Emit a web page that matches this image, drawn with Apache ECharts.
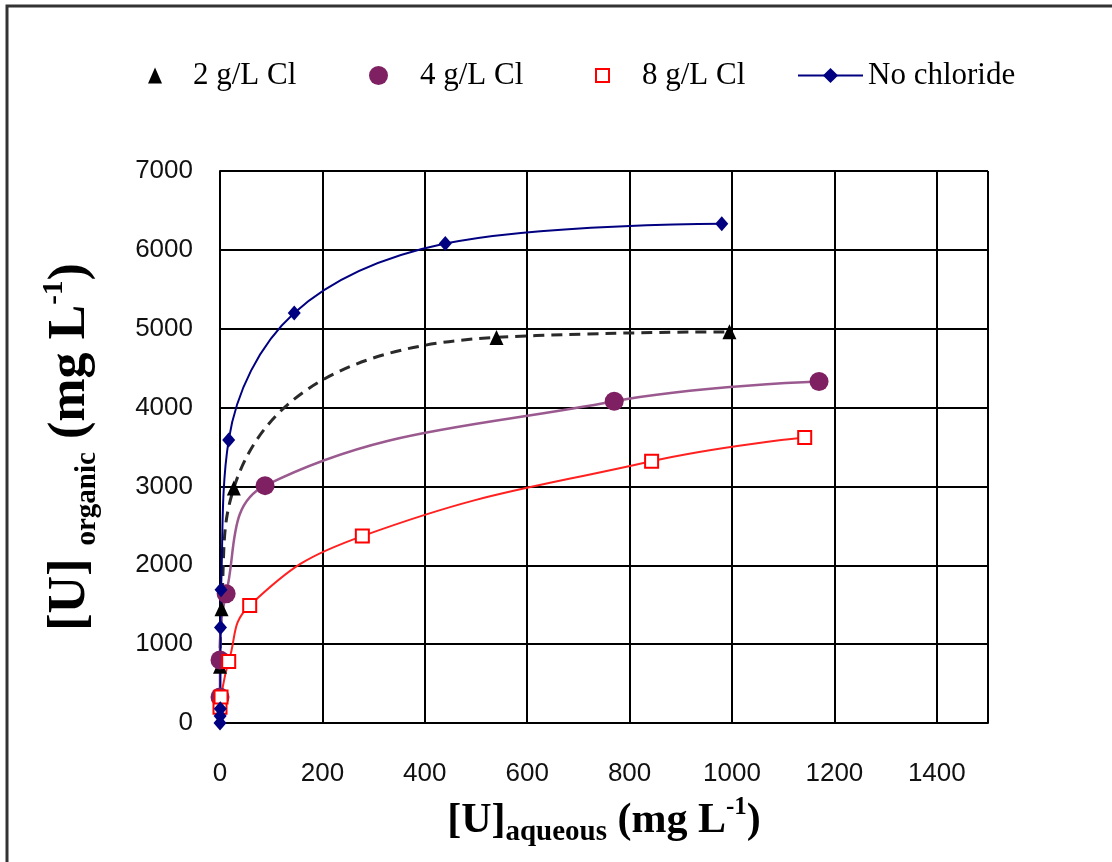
<!DOCTYPE html>
<html lang="en">
<head>
<meta charset="UTF-8">
<title>U isotherms</title>
<script src="https://cdn.jsdelivr.net/npm/echarts@6/dist/echarts.min.js"></script>
<style>
  html, body { margin: 0; padding: 0; background: #fff; }
  #main { width: 1112px; height: 862px; }
</style>
</head>
<body>
<div id="main"></div>
<script>
const names = ['2 g/L Cl', '4 g/L Cl', '8 g/L Cl', 'No chloride'];

// [U]aqueous (x) and [U]organic (y), mg/L
const cl2X = [0, 3, 27, 540, 995];
const cl2Y = [720, 1450, 2980, 4890, 4960];
const cl4X = [0, 0, 12, 88, 770, 1170];
const cl4Y = [330, 800, 1640, 3010, 4080, 4330];
const cl8X = [0, 2, 17, 58, 278, 843, 1142];
const cl8Y = [200, 330, 780, 1490, 2370, 3320, 3620];
const noClX = [0, 0.3, 0.6, 1, 2, 17, 145, 440, 980];
const noClY = [0, 90, 180, 1210, 1690, 3590, 5200, 6080, 6330];

const xMax = 1500, xStep = 200;
const yMax = 7000, yStep = 1000;

const pairs = (xs, ys) => xs.map((x, i) => [x, ys[i]]);

var chart = echarts.init(document.getElementById('main'));

const serif = 'Liberation Serif';
const legendText = (gap) => ({ fontFamily: serif, fontSize: 31, color: '#000', padding: [0, 0, 0, gap] });
const titleRich = {
    b: { fontFamily: serif, fontWeight: 'bold', fontSize: 42, lineHeight: 52, color: '#000', verticalAlign: 'middle' },
    s: { fontFamily: serif, fontWeight: 'bold', fontSize: 29, color: '#000', verticalAlign: 'bottom' },
    p: { fontFamily: serif, fontWeight: 'bold', fontSize: 25, color: '#000', verticalAlign: 'top' }
};

var option = {
    animation: false,
    backgroundColor: '#fff',
    graphic: [{
        // outer frame of the figure
        type: 'rect',
        shape: { x: 7, y: 6, width: 1200, height: 1000 },
        style: { fill: 'none', stroke: '#333', lineWidth: 3 },
        silent: true
    }],
    legend: [
        { left: 148, top: 60, itemWidth: 14, itemHeight: 16, padding: 0, textStyle: legendText(26),
          data: [{ name: names[0], icon: 'triangle' }] },
        { left: 369, top: 60, itemWidth: 19, itemHeight: 19, padding: 0, textStyle: legendText(27),
          data: [{ name: names[1], icon: 'circle' }] },
        { left: 595, top: 60, itemWidth: 13, itemHeight: 13, padding: 0, textStyle: legendText(28),
          data: [{ name: names[2], icon: 'rect' }] },
        { left: 797, top: 60, itemWidth: 65, itemHeight: 19, padding: 0, textStyle: legendText(0),
          data: [names[3]] }
    ],
    grid: { left: 220, right: 124, top: 171, bottom: 139, outerBoundsMode: 'none' },
    xAxis: {
        type: 'value', min: 0, max: xMax, interval: xStep,
        name: '{b|[U]}{s|aqueous} {b|(mg L}{p|-1}{b|)}',
        nameLocation: 'middle', nameGap: 72, nameMoveOverlap: false,
        nameTextStyle: { fontFamily: serif, fontWeight: 'bold', fontSize: 42, rich: titleRich },
        axisLine: { lineStyle: { color: '#000', width: 2 } },
        axisTick: { show: false },
        splitLine: { lineStyle: { color: '#000', width: 2 } },
        axisLabel: { showMaxLabel: false, margin: 38, fontFamily: 'Liberation Sans', fontSize: 26, color: '#111',
                     formatter: v => String(v) }
    },
    yAxis: {
        type: 'value', min: 0, max: yMax, interval: yStep,
        name: '{b|[U]} {s|organic} {b|(mg L}{p|-1}{b|)}',
        nameLocation: 'middle', nameRotate: 90, nameGap: 118, nameMoveOverlap: false,
        nameTextStyle: { fontFamily: serif, fontWeight: 'bold', fontSize: 52, rich: {
            b: Object.assign({}, titleRich.b, { fontSize: 52, lineHeight: 62 }),
            s: Object.assign({}, titleRich.s, { fontSize: 29 }),
            p: Object.assign({}, titleRich.p, { fontSize: 29 })
        } },
        axisLine: { lineStyle: { color: '#000', width: 2 } },
        axisTick: { show: false },
        splitLine: { lineStyle: { color: '#000', width: 2 } },
        axisLabel: { margin: 27, fontFamily: 'Liberation Sans', fontSize: 26, color: '#111',
                     formatter: v => String(v) }
    },
    series: [
        {
            name: names[0], type: 'line', smooth: 0.5, data: pairs(cl2X, cl2Y),
            symbol: 'triangle', symbolSize: [14, 15],
            itemStyle: { color: '#000' },
            lineStyle: { color: '#2a2a2a', width: 3, type: [11, 7] }
        },
        {
            name: names[1], type: 'line', smooth: 0.4, data: pairs(cl4X, cl4Y),
            symbol: 'circle', symbolSize: 19,
            itemStyle: { color: '#7e2062' },
            lineStyle: { color: '#9b5a8f', width: 2.5 }
        },
        {
            name: names[2], type: 'line', smooth: 0.45, data: pairs(cl8X, cl8Y),
            symbol: 'rect', symbolSize: 13,
            itemStyle: { color: '#fff', borderColor: '#ff0000', borderWidth: 2 },
            lineStyle: { color: '#ff2020', width: 2 }
        },
        {
            name: names[3], type: 'line', smooth: 0.35, data: pairs(noClX, noClY),
            symbol: 'diamond', symbolSize: [13, 15],
            itemStyle: { color: '#000080' },
            lineStyle: { color: '#000080', width: 2 }
        }
    ]
};

chart.setOption(option);
</script>
</body>
</html>
